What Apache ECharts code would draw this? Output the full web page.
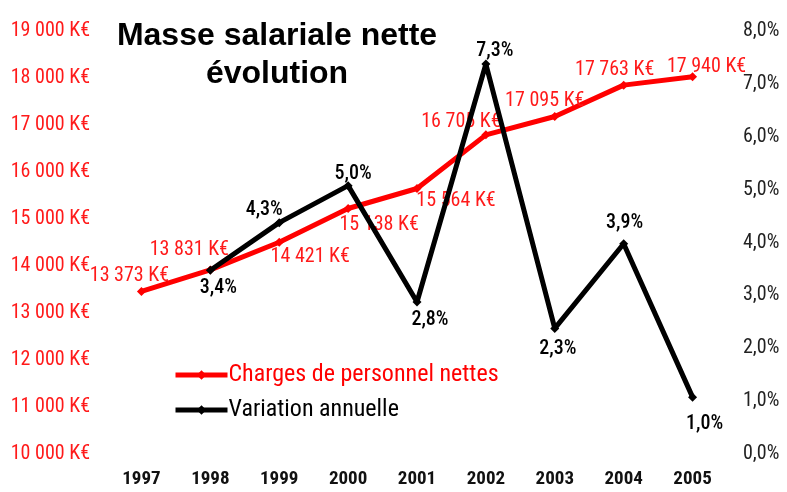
<!DOCTYPE html>
<html>
<head>
    <meta charset="utf-8">
    <title>Masse salariale nette</title>
    <script src="https://cdn.jsdelivr.net/npm/echarts@6/dist/echarts.min.js"></script>
    <style type="text/css">
        html, body { margin: 0; padding: 0; background: #fff; }
        #chart { width: 787px; height: 492px; }
    </style>
</head>
<body>
<div id="chart"></div>
<script>
    var years = ['1997','1998','1999','2000','2001','2002','2003','2004','2005'];
    var charges = [13373, 13831, 14421, 15138, 15564, 16705, 17095, 17763, 17940];
    var variation = ['-', 3.4, 4.3, 5.0, 2.8, 7.3, 2.3, 3.9, 1.0];

    // decalage des etiquettes (comme dans le graphique excel)
    var chargesLabelOffset = [[-12, 4], [-21, 0], [31, 34], [31, 36], [39, 32], [-25, 7], [-10, 4], [-9, 4], [14, 10]];
    var variationLabelOffset = [[0, 0], [8, 37], [-15, 7], [5, 8], [13, 38], [9, 6], [3, 40], [1, -1], [12, 46]];

    var narrow = '"Roboto Condensed", "Liberation Sans Narrow", sans-serif';

    function fmtKE(v) {
        return String(v).replace(/\B(?=(\d{3})+(?!\d))/g, ' ') + ' K€';
    }
    function fmtPct(v) {
        return Number(v).toFixed(1).replace('.', ',') + '%';
    }

    var chargesData = charges.map(function (v, i) {
        return {value: v, label: {offset: chargesLabelOffset[i]}};
    });
    var variationData = variation.map(function (v, i) {
        return {value: v, label: {offset: variationLabelOffset[i]}};
    });

    var myChart = echarts.init(document.getElementById('chart'));
    var option = {
        animation: false,
        title: {
            text: 'Masse salariale nette\névolution',
            left: 272,
            top: 12,
            textAlign: 'center',
            textStyle: {
                fontFamily: '"Liberation Sans", Arial, sans-serif',
                fontSize: 32,
                fontWeight: 'bold',
                color: '#000',
                lineHeight: 38
            }
        },
        legend: {
            orient: 'vertical',
            left: 173,
            top: 363,
            padding: 0,
            itemWidth: 52,
            itemHeight: 12,
            itemGap: 11,
            lineStyle: {width: 5},
            data: [
                {name: 'Charges de personnel nettes', textStyle: {color: '#ff0000'}},
                {name: 'Variation annuelle', textStyle: {color: '#000'}}
            ],
            textStyle: {fontFamily: narrow, fontSize: 24, padding: [0, 0, 0, -4]}
        },
        grid: {left: 107, right: 60, top: 27, bottom: 42},
        xAxis: {
            type: 'category',
            data: years,
            axisLine: {show: false},
            axisTick: {show: false},
            axisLabel: {
                margin: 20,
                fontFamily: narrow,
                fontSize: 19,
                fontWeight: 'bold',
                color: '#111'
            }
        },
        yAxis: [
            {
                type: 'value',
                min: 10000,
                max: 19000,
                interval: 1000,
                splitLine: {show: false},
                axisLine: {show: false},
                axisTick: {show: false},
                axisLabel: {
                    margin: 17,
                    formatter: function (v) { return '{v|' + fmtKE(v) + '}'; },
                    rich: {
                        v: {fontFamily: narrow, fontSize: 20, color: '#ff1a1a', padding: [8, 0, 0, 0]}
                    }
                }
            },
            {
                type: 'value',
                min: 0,
                max: 8,
                interval: 1,
                splitLine: {show: false},
                axisLine: {show: false},
                axisTick: {show: false},
                axisLabel: {
                    margin: 16,
                    formatter: function (v) { return '{v|' + fmtPct(v) + '}'; },
                    rich: {
                        v: {fontFamily: narrow, fontSize: 20, color: '#222', padding: [8, 0, 0, 0]}
                    }
                }
            }
        ],
        series: [
            {
                name: 'Charges de personnel nettes',
                type: 'line',
                yAxisIndex: 0,
                data: chargesData,
                symbol: 'diamond',
                symbolSize: 9,
                lineStyle: {color: '#ff0000', width: 5},
                itemStyle: {color: '#ff0000'},
                label: {
                    show: true,
                    position: 'top',
                    fontFamily: narrow,
                    fontSize: 20,
                    color: '#ff1a1a',
                    formatter: function (p) { return fmtKE(p.value); }
                },
                z: 2
            },
            {
                name: 'Variation annuelle',
                type: 'line',
                yAxisIndex: 1,
                data: variationData,
                symbol: 'diamond',
                symbolSize: 9,
                lineStyle: {color: '#000', width: 5},
                itemStyle: {color: '#000'},
                label: {
                    show: true,
                    position: 'top',
                    fontFamily: narrow,
                    fontSize: 20,
                    fontWeight: 500,
                    color: '#000',
                    formatter: function (p) { return fmtPct(p.value); }
                },
                z: 3
            }
        ]
    };
    myChart.setOption(option);
</script>
</body>
</html>
